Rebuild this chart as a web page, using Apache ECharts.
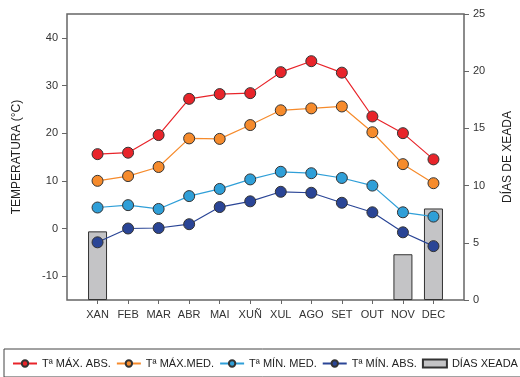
<!DOCTYPE html>
<html><head><meta charset="utf-8">
<script src="https://cdn.jsdelivr.net/npm/echarts@6/dist/echarts.min.js"></script>
<style>html,body{margin:0;padding:0;background:#fff}#c{width:520px;height:377px}</style>
</head><body><div id="c"></div>
<script>
const months = ['XAN','FEB','MAR','ABR','MAI','XUÑ','XUL','AGO','SET','OUT','NOV','DEC'];
const maxAbs = [15.6,15.9,19.6,27.2,28.2,28.4,32.8,35.1,32.7,23.5,20.0,14.5];
const maxMed = [10.0,11.0,12.9,18.9,18.8,21.7,24.8,25.2,25.6,20.2,13.5,9.5];
const minMed = [4.4,4.9,4.1,6.8,8.3,10.3,11.9,11.6,10.6,9.0,3.4,2.5];
const minAbs = [-2.9,0.0,0.1,0.9,4.5,5.7,7.7,7.5,5.4,3.4,-0.8,-3.7];
const frostDays = [6,null,null,null,null,null,null,null,null,null,4,8];
const tempTicks = [-10,0,10,20,30,40];
const names = ['Tª MÁX. ABS.','Tª MÁX.MED.','Tª MÍN. MED.','Tª MÍN. ABS.','DÍAS XEADA'];

const pad = a => [null].concat(a, [null]);
const cats = [''].concat(months, ['']);
const font = 'Liberation Sans, Arial, sans-serif';
const colors = ['#e8242a','#f68b2c','#2f9fd8','#2a4596'];
const lineData = [maxAbs, maxMed, minMed, minAbs];

const chart = echarts.init(document.getElementById('c'));
const series = lineData.map((d,i)=>({
  name: names[i], type:'line', data: pad(d), yAxisIndex:0, z:5,
  symbol:'circle', symbolSize:11,
  lineStyle:{color:colors[i], width:1.2},
  itemStyle:{color:colors[i], borderColor:'#333', borderWidth:1}
}));
series.push({
  name: names[4], type:'bar', data: pad(frostDays), yAxisIndex:1, z:2,
  barWidth:19,
  itemStyle:{color:'#c4c4c6', borderColor:'#333', borderWidth:1}
});

chart.setOption({
  animation:false,
  textStyle:{fontFamily:font},
  grid:{left:67, right:56, top:14, bottom:77, outerBoundsMode:'none', containLabel:false,
        show:true, borderColor:'#666', borderWidth:1.5, backgroundColor:'transparent'},
  legend:{
    left:4, top:349, width:620, itemGap:5, itemWidth:24, itemHeight:8,
    borderColor:'#444', borderWidth:1, padding:[9,6,8,8],
    textStyle:{fontSize:11, color:'#222', fontFamily:font},
    data: names.map((n,i)=> i===4 ? {name:n, icon:'rect'} : {name:n})
  },
  xAxis:{
    type:'category', data:cats, boundaryGap:false,
    axisLine:{show:false, onZero:false},
    axisTick:{show:true, length:4, lineStyle:{color:'#666'}, interval:(i)=> i>0 && i<cats.length-1},
    axisLabel:{color:'#333', fontSize:11, margin:9, interval:0, fontFamily:font},
    splitLine:{show:false}
  },
  yAxis:[{
    type:'value', min:-15, max:45, position:'left',
    axisLine:{show:false},
    axisTick:{show:true, length:5, lineStyle:{color:'#666'}, customValues:tempTicks},
    axisLabel:{color:'#333', fontSize:11, margin:9, customValues:tempTicks, fontFamily:font},
    splitLine:{show:false},
    name:'TEMPERATURA (°C)', nameLocation:'middle', nameRotate:90, nameGap:44,
    nameTextStyle:{fontSize:12, color:'#222', fontFamily:font}
  },{
    type:'value', min:0, max:25, interval:5, position:'right',
    axisLine:{show:false},
    axisTick:{show:true, length:5, lineStyle:{color:'#666'}},
    axisLabel:{color:'#333', fontSize:11, margin:9, fontFamily:font},
    splitLine:{show:false},
    name:'DÍAS DE XEADA', nameLocation:'middle', nameRotate:90, nameGap:38,
    nameTextStyle:{fontSize:12, color:'#222', fontFamily:font}
  }],
  series: series
});
</script></body></html>
